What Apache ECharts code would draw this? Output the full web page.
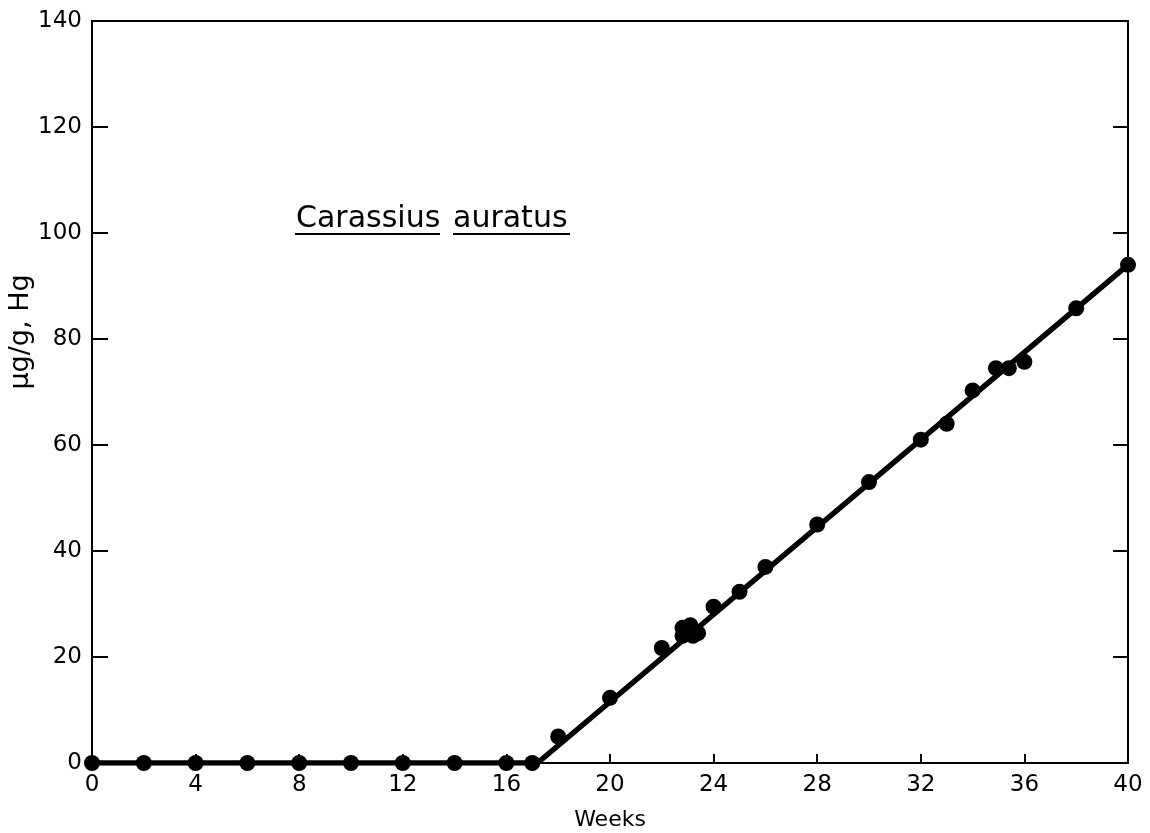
<!DOCTYPE html>
<html>
<head>
<meta charset="utf-8">
<script src="https://cdn.jsdelivr.net/npm/echarts@6/dist/echarts.min.js"></script>
<style>
  html, body { margin: 0; padding: 0; background: #fff; }
  #chart { width: 1150px; height: 833px; }
</style>
</head>
<body>
<div id="chart"></div>
<script>
// Mercury concentration in goldfish tissue over exposure time
const weeks = [0, 2, 4, 6, 8, 10, 12, 14, 16, 17, 18, 20, 22, 22.8, 22.8, 23.1, 23.2, 23.4, 24, 25, 26, 28, 30, 32, 33, 34, 34.9, 35.4, 36, 38, 40];
const hg    = [0, 0, 0, 0, 0, 0, 0, 0, 0, 0, 5, 12.3, 21.7, 25.5, 24, 26, 24, 24.5, 29.5, 32.3, 37, 45, 53, 61, 64, 70.3, 74.5, 74.5, 75.7, 85.8, 94];

// Fitted trend: flat lag phase, then linear uptake
const fitWeeks = [0, 17.2, 40];
const fitHg    = [0, 0, 94];

const xTicks = [0, 4, 8, 12, 16, 20, 24, 28, 32, 36, 40];
const yTicks = [0, 20, 40, 60, 80, 100, 120, 140];

const FONT = 'DejaVu Sans';
const chart = echarts.init(document.getElementById('chart'), null, { renderer: 'canvas' });

const labelStyle = { color: '#000', fontFamily: FONT, fontSize: 23 };

chart.setOption({
  backgroundColor: '#fff',
  animation: false,
  grid: {
    left: 92, right: 22, top: 21, bottom: 70,
    outerBoundsMode: 'none', containLabel: false,
    show: true, borderColor: '#000', borderWidth: 2, backgroundColor: 'transparent'
  },
  xAxis: {
    type: 'value',
    min: xTicks[0], max: xTicks[xTicks.length - 1], interval: xTicks[1] - xTicks[0],
    name: 'Weeks', nameLocation: 'middle', nameGap: 46,
    nameTextStyle: { color: '#000', fontFamily: FONT, fontSize: 22 },
    axisLine: { show: true, lineStyle: { color: '#000', width: 2 } },
    axisTick: { show: true, inside: true, length: 9, lineStyle: { color: '#000', width: 2 } },
    axisLabel: Object.assign({ margin: 11 }, labelStyle),
    splitLine: { show: false }
  },
  yAxis: [{
    type: 'value',
    min: yTicks[0], max: yTicks[yTicks.length - 1], interval: yTicks[1] - yTicks[0],
    axisLine: { show: true, lineStyle: { color: '#000', width: 2 } },
    axisTick: { show: true, inside: true, length: 16, lineStyle: { color: '#000', width: 2 } },
    axisLabel: Object.assign({ margin: 10 }, labelStyle),
    splitLine: { show: false }
  }, {
    type: 'value', position: 'right',
    min: yTicks[0], max: yTicks[yTicks.length - 1], interval: yTicks[1] - yTicks[0],
    axisLine: { show: true, lineStyle: { color: '#000', width: 2 } },
    axisTick: { show: true, inside: true, length: 15, lineStyle: { color: '#000', width: 2 } },
    axisLabel: { show: false },
    splitLine: { show: false }
  }],
  series: [{
    type: 'line',
    data: fitWeeks.map((w, i) => [w, fitHg[i]]),
    showSymbol: false,
    lineStyle: { color: '#000', width: 5.5 },
    z: 2
  }, {
    type: 'scatter',
    data: weeks.map((w, i) => [w, hg[i]]),
    symbol: 'circle',
    symbolSize: 16,
    itemStyle: { color: '#000', opacity: 1 },
    z: 3
  }],
  graphic: [
    {
      type: 'text', x: 21, y: 332, rotation: Math.PI / 2,
      style: { text: 'μg/g, Hg', fill: '#000', font: '27px ' + FONT, textAlign: 'center', textVerticalAlign: 'middle' }
    },
    {
      type: 'text', x: 296, y: 219,
      style: { text: 'Carassius', fill: '#000', font: '30px ' + FONT, textAlign: 'left', textVerticalAlign: 'middle' }
    },
    {
      type: 'text', x: 453, y: 219,
      style: { text: 'auratus', fill: '#000', font: '30px ' + FONT, textAlign: 'left', textVerticalAlign: 'middle' }
    },
    { type: 'line', shape: { x1: 295, y1: 234, x2: 440, y2: 234 }, style: { stroke: '#000', lineWidth: 2 } },
    { type: 'line', shape: { x1: 453, y1: 234, x2: 570, y2: 234 }, style: { stroke: '#000', lineWidth: 2 } }
  ]
});
</script>
</body>
</html>
